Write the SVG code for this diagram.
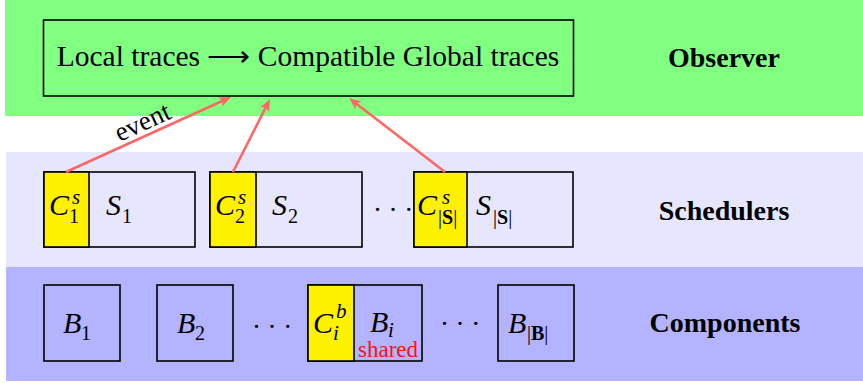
<svg xmlns="http://www.w3.org/2000/svg" width="863" height="383" viewBox="0 0 863 383">
<style>
.box{stroke:#000;stroke-width:1.6;}
.sch{fill:#E6E6FF;}
.cmp{fill:#B3B3FF;}
.yel{fill:#FFF200;}
.t{font-family:"Liberation Serif","Times New Roman",serif;fill:#000;}
.lbl{font-family:"Liberation Serif","Times New Roman",serif;font-weight:bold;font-size:28px;text-anchor:middle;fill:#000;}
.m{font-family:"Liberation Serif","Times New Roman",serif;font-style:italic;font-size:30px;fill:#000;}
.r{font-style:normal;font-size:20px;}
.i{font-style:italic;font-size:21px;}
.b{font-weight:bold;}
.dots{font-family:"Liberation Serif","Times New Roman",serif;font-size:28px;letter-spacing:8.6px;fill:#000;}
.arr{stroke:#FF6666;stroke-width:2.6;fill:none;marker-end:url(#ah);}
</style>
<defs>
<marker id="ah" viewBox="0 0 12 10" markerUnits="userSpaceOnUse" markerWidth="12" markerHeight="10" refX="6" refY="5" orient="auto">
<path d="M0,0 L12,5 L0,10 L3,5 z" fill="#FF6666"/>
</marker>
</defs>
<g id="bands">
<rect x="5" y="0" width="858" height="116" fill="#80FF80"/>
<rect x="6" y="152" width="857" height="115" fill="#E6E6FF"/>
<rect x="6" y="267" width="857" height="114" fill="#B3B3FF"/>
</g>
<g id="observer">
<rect x="43.5" y="20" width="530" height="76" fill="none" class="box"/>
<text class="t" x="308" y="66" font-size="29.5" text-anchor="middle">Local traces <tspan font-family="DejaVu Sans, sans-serif" font-weight="200">⟶</tspan> Compatible Global traces</text>
</g>
<g id="label-observer"><text class="lbl" x="724" y="67">Observer</text></g>
<g id="label-schedulers"><text class="lbl" x="724" y="220">Schedulers</text></g>
<g id="label-components"><text class="lbl" x="725" y="332">Components</text></g>

<g id="scheduler-1">
<rect x="44" y="172" width="151" height="75" class="box sch"/>
<rect x="44" y="172" width="45" height="75" class="box yel"/>
<text class="m" x="49" y="215">C<tspan class="i" x="72" y="204">s</tspan><tspan class="r" x="69" y="223">1</tspan></text>
<text class="m" x="106" y="215">S<tspan class="r" x="122" y="223">1</tspan></text>
</g>
<g id="scheduler-2">
<rect x="210" y="172" width="152" height="75" class="box sch"/>
<rect x="210" y="172" width="46" height="75" class="box yel"/>
<text class="m" x="215" y="215">C<tspan class="i" x="238" y="204">s</tspan><tspan class="r" x="235" y="223">2</tspan></text>
<text class="m" x="272" y="215">S<tspan class="r" x="288" y="223">2</tspan></text>
</g>
<g id="dots-s"><text class="dots" x="374" y="211">...</text></g>
<g id="scheduler-n">
<rect x="414" y="172" width="159" height="75" class="box sch"/>
<rect x="414" y="172" width="53" height="75" class="box yel"/>
<text class="m" x="417" y="215">C<tspan class="i" x="442" y="204">s</tspan><tspan class="r" x="438" y="224">|<tspan class="b">S</tspan>|</tspan></text>
<text class="m" x="476" y="215">S<tspan class="r" x="493" y="224">|<tspan class="b">S</tspan>|</tspan></text>
</g>

<g id="component-1">
<rect x="44" y="285" width="76" height="76" class="box cmp"/>
<text class="m" x="63" y="333">B<tspan class="r" x="81" y="340">1</tspan></text>
</g>
<g id="component-2">
<rect x="157" y="285" width="76" height="76" class="box cmp"/>
<text class="m" x="177" y="333">B<tspan class="r" x="195" y="340">2</tspan></text>
</g>
<g id="dots-b1"><text class="dots" x="253" y="328">...</text></g>
<g id="component-i">
<rect x="308" y="285" width="114" height="76" class="box cmp"/>
<rect x="308" y="285" width="46" height="76" class="box yel"/>
<text class="m" x="313" y="333">C<tspan class="i" x="336" y="318">b</tspan><tspan class="i" x="333" y="340">i</tspan></text>
<text class="m" x="370" y="332">B<tspan class="i" x="388" y="337">i</tspan></text>
<text class="t" x="388" y="357" font-size="23" text-anchor="middle" style="fill:#FF1010">shared</text>
</g>
<g id="dots-b2"><text class="dots" x="441" y="325">...</text></g>
<g id="component-n">
<rect x="498" y="285" width="76" height="76" class="box cmp"/>
<text class="m" x="508" y="333">B<tspan class="r" x="527" y="340">|<tspan class="b">B</tspan>|</tspan></text>
</g>

<g id="connectors">
<line class="arr" x1="66" y1="172" x2="225.5" y2="99.5"/>
<line class="arr" x1="233" y1="172" x2="267.3" y2="104.4"/>
<line class="arr" x1="445" y1="172" x2="353.8" y2="101.7"/>
<text class="t" font-size="27" text-anchor="middle" transform="translate(146,130) rotate(-24.4)">event</text>
</g>
</svg>
